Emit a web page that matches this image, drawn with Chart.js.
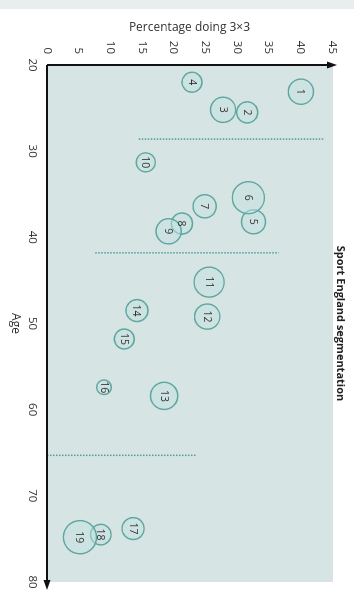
<!DOCTYPE html>
<html>
<head>
<meta charset="utf-8">
<script src="https://cdn.jsdelivr.net/npm/chart.js@4.4.1/dist/chart.umd.min.js"></script>
<style>
  html, body { margin: 0; padding: 0; background: #fff; overflow: hidden; }
  /* chart is drawn landscape (604x354) and turned a quarter clockwise to fit the page */
  #wrap {
    position: absolute; left: 0; top: 0; width: 604px; height: 354px;
    transform-origin: 0 0; transform: translate(354px, 0) rotate(90deg);
  }
</style>
</head>
<body>
<div id="wrap"><canvas id="segChart" width="604" height="354"></canvas></div>
<script>
// Sport England segments: age vs percentage doing 3x3, bubble size = segment size
const segments = ['1', '2', '3', '4', '5', '6', '7', '8', '9', '10',
                  '11', '12', '13', '14', '15', '16', '17', '18', '19'];
const ages = [23.1, 25.5, 25.2, 22.0, 38.2, 35.4, 36.4, 38.4, 39.3, 31.3,
              45.2, 49.2, 58.4, 48.5, 51.8, 57.4, 73.8, 74.5, 74.8];
const pcts = [40.1, 31.6, 27.8, 22.9, 32.6, 31.8, 24.9, 21.3, 19.2, 15.6,
              25.6, 25.3, 18.5, 14.2, 12.2, 9.0, 13.6, 8.5, 5.2];
const sizes = [12.6, 10.6, 12.6, 10.0, 12.0, 16.0, 11.6, 10.6, 12.6, 9.6,
               15.0, 12.6, 13.6, 11.0, 10.0, 7.3, 11.0, 10.3, 16.6];

// dotted dividers between the age groups
const dividerAges = [28.6, 41.8, 65.3];
const dividerFrom = [14.5, 7.6, 0];
const dividerTo = [43.6, 36.6, 23.7];

const ageTicks = [20, 30, 40, 50, 60, 70, 80];
const pctTicks = [0, 5, 10, 15, 20, 25, 30, 35, 40, 45];

const FONT = '"Open Sans", "Noto Sans", sans-serif';
const TEAL = '#5ea6a0';

const backdrop = {
  id: 'backdrop',
  beforeDraw(chart) {
    const { ctx, chartArea: a } = chart;
    ctx.save();
    ctx.fillStyle = '#e8eeee';
    ctx.fillRect(0, 0, 9, chart.height);
    ctx.fillStyle = '#d6e4e4';
    ctx.fillRect(a.left, a.top - 1, a.right - a.left, a.bottom - a.top + 1);
    ctx.restore();
  }
};

const arrowAxes = {
  id: 'arrowAxes',
  afterDraw(chart) {
    const { ctx, chartArea: a } = chart;
    const ox = a.left, oy = a.bottom;
    const ageEnd = a.right + 8, pctEnd = a.top - 5;
    ctx.save();
    ctx.strokeStyle = '#111';
    ctx.fillStyle = '#111';
    ctx.lineWidth = 2;
    ctx.beginPath();
    ctx.moveTo(ox, oy);
    ctx.lineTo(ageEnd - 6, oy);
    ctx.moveTo(ox, oy);
    ctx.lineTo(ox, pctEnd + 6);
    ctx.stroke();
    // arrow heads
    ctx.beginPath();
    ctx.moveTo(ageEnd, oy);
    ctx.lineTo(ageEnd - 10, oy - 3.5);
    ctx.lineTo(ageEnd - 10, oy + 3.5);
    ctx.closePath();
    ctx.fill();
    ctx.beginPath();
    ctx.moveTo(ox, pctEnd);
    ctx.lineTo(ox - 3.5, pctEnd + 10);
    ctx.lineTo(ox + 3.5, pctEnd + 10);
    ctx.closePath();
    ctx.fill();
    ctx.restore();
  }
};

const bubbleNumbers = {
  id: 'bubbleNumbers',
  afterDatasetsDraw(chart) {
    const { ctx } = chart;
    const meta = chart.getDatasetMeta(0);
    ctx.save();
    ctx.font = '10.5px ' + FONT;
    ctx.fillStyle = '#333';
    ctx.textAlign = 'center';
    ctx.textBaseline = 'middle';
    meta.data.forEach((pt, i) => {
      ctx.fillText(segments[i], pt.x, pt.y + 0.5);
    });
    ctx.restore();
  }
};

const bubbleData = segments.map((s, i) => ({ x: ages[i], y: pcts[i], r: sizes[i] }));

const dividerSets = dividerAges.map((age, i) => ({
  type: 'line',
  data: [{ x: age, y: dividerFrom[i] }, { x: age, y: dividerTo[i] }],
  borderColor: '#4f9d97',
  borderWidth: 1.5,
  borderDash: [1.5, 1.5],
  pointRadius: 0,
  fill: false
}));

new Chart(document.getElementById('segChart'), {
  type: 'bubble',
  data: {
    datasets: [
      {
        data: bubbleData,
        backgroundColor: 'rgba(195, 226, 223, 0.5)',
        borderColor: TEAL,
        borderWidth: 1.4,
        hoverRadius: 0
      },
      ...dividerSets
    ]
  },
  options: {
    responsive: false,
    devicePixelRatio: 1,
    animation: false,
    events: [],
    layout: { padding: { left: 0, right: 22, top: 0, bottom: 0 } },
    plugins: {
      legend: { display: false },
      tooltip: { enabled: false },
      title: {
        display: true,
        text: 'Sport England segmentation',
        fullSize: false,
        color: '#222',
        font: { family: FONT, size: 11, weight: 'bold' },
        padding: { top: 7.4, bottom: 1.4 }
      }
    },
    scales: {
      x: {
        type: 'linear',
        min: 20,
        max: 80,
        afterBuildTicks: (scale) => { scale.ticks = ageTicks.map(v => ({ value: v })); },
        afterFit: (scale) => { scale.height = 47; },
        grid: { display: false, drawTicks: false },
        border: { display: false },
        ticks: { padding: 8, maxRotation: 0, autoSkip: false, color: '#333', font: { family: FONT, size: 11.5 } },
        title: { display: true, text: 'Age', color: '#333', padding: { top: 0, bottom: 7.8 }, font: { family: FONT, size: 12 } }
      },
      y: {
        type: 'linear',
        min: 0,
        max: 45,
        afterBuildTicks: (scale) => { scale.ticks = pctTicks.map(v => ({ value: v })); },
        afterFit: (scale) => { scale.width = 65; },
        grid: { display: false, drawTicks: false },
        border: { display: false },
        ticks: { padding: 11, autoSkip: false, color: '#333', font: { family: FONT, size: 11.5 } },
        title: { display: true, text: 'Percentage doing 3×3', color: '#333', padding: { top: 20.3, bottom: 0 }, font: { family: FONT, size: 12 } }
      }
    }
  },
  plugins: [backdrop, arrowAxes, bubbleNumbers]
});
</script>
</body>
</html>
